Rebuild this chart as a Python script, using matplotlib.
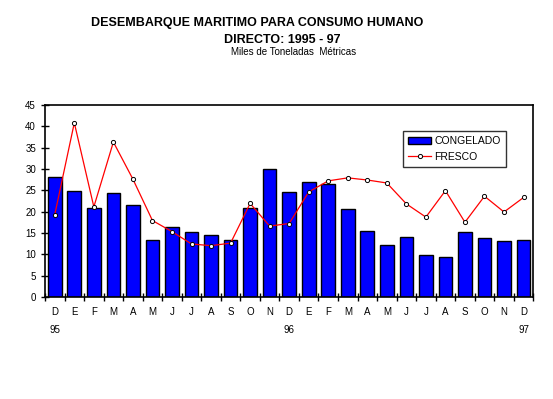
import numpy as np
import matplotlib
matplotlib.use('Agg')
import matplotlib.pyplot as plt

plt.rcParams['font.family'] = ['Liberation Sans', 'DejaVu Sans']

meses = ['D', 'E', 'F', 'M', 'A', 'M', 'J', 'J', 'A', 'S', 'O', 'N',
         'D', 'E', 'F', 'M', 'A', 'M', 'J', 'J', 'A', 'S', 'O', 'N', 'D']
anios = {0: '95', 12: '96', 24: '97'}

congelado = [28.0, 24.9, 20.9, 24.4, 21.6, 13.4, 16.4, 15.3, 14.6, 13.4, 20.9, 30.0,
             24.7, 27.0, 26.5, 20.7, 15.5, 12.2, 14.1, 9.9, 9.4, 15.3, 13.9, 13.0, 13.4]
fresco = [19.3, 40.8, 21.1, 36.3, 27.6, 17.9, 15.3, 12.4, 12.0, 12.6, 21.9, 16.6,
          17.2, 24.6, 27.2, 27.9, 27.4, 26.7, 21.8, 18.7, 24.9, 17.5, 23.6, 19.9, 23.3]

fig = plt.figure(figsize=(5.53, 3.99), dpi=100)
ax = fig.add_axes([0.0814, 0.256, 0.883, 0.481])

x = np.arange(len(meses))
barras = ax.bar(x, congelado, width=0.7, color='#0000ff', edgecolor='black',
                linewidth=1, label='CONGELADO', zorder=2)
linea, = ax.plot(x, fresco, color='red', linewidth=0.9, marker='o', markersize=3,
                 markerfacecolor='white', markeredgecolor='black', markeredgewidth=0.7,
                 label='FRESCO', zorder=3)

ax.set_xlim(-0.5, len(meses) - 0.5)
ax.set_ylim(0, 45)
ax.set_yticks(np.arange(0, 46, 5))
ax.tick_params(axis='y', direction='inout', length=6, labelsize=7, width=1)

# etiquetas de mes y año
labels = [m + '\n' + anios.get(i, '') for i, m in enumerate(meses)]
ax.set_xticks(x)
ax.set_xticklabels(labels, fontsize=7, linespacing=2.0)
ax.tick_params(axis='x', which='major', length=0, pad=7)
ax.set_xticks(np.arange(-0.5, len(meses), 1), minor=True)
ax.tick_params(axis='x', which='minor', direction='inout', length=6, width=1)

for s in ax.spines.values():
    s.set_linewidth(1.2)

leg = ax.legend([barras, linea], ['CONGELADO', 'FRESCO'],
                loc='upper left', bbox_to_anchor=(0.723, 0.89), fontsize=7.5,
                frameon=True, fancybox=False, edgecolor='black',
                handlelength=2.2, handletextpad=0.3, borderpad=0.5,
                labelspacing=0.5)
leg.get_frame().set_linewidth(1)

fig.text(0.465, 0.935, 'DESEMBARQUE MARITIMO PARA CONSUMO HUMANO',
         ha='center', fontsize=9, fontweight='bold')
fig.text(0.51, 0.893, 'DIRECTO: 1995 - 97', ha='center', fontsize=9,
         fontweight='bold')
fig.text(0.53, 0.862, 'Miles de Toneladas  Métricas', ha='center', fontsize=7)

fig.savefig('out.png', dpi=100)
